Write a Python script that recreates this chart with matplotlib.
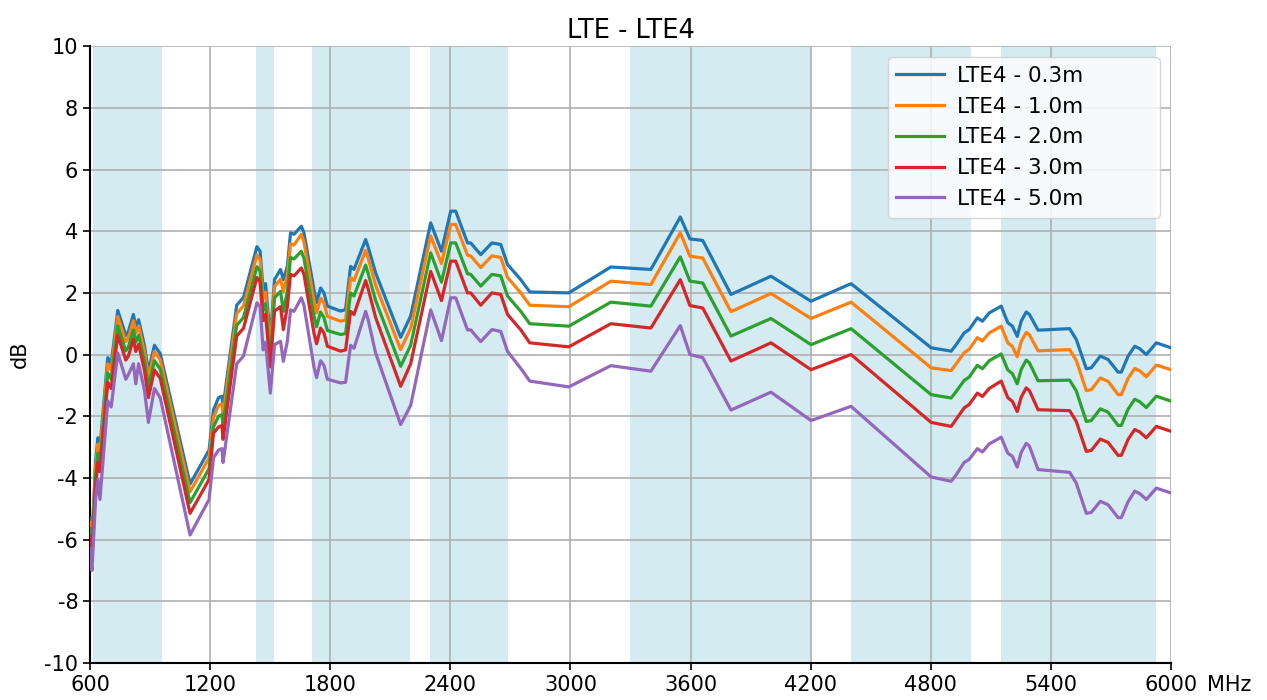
import numpy as np
import matplotlib
matplotlib.use("Agg")
import matplotlib.pyplot as plt

plt.rcParams['axes.unicode_minus'] = False

# frequency points (MHz)
freq = [600, 610, 628, 640, 650, 689, 706, 739, 779, 792, 817, 829, 843, 872, 892,
        922, 951, 1100, 1195, 1217, 1242, 1259, 1265, 1333, 1367, 1434, 1450, 1465,
        1477, 1501, 1522, 1552, 1566, 1586, 1602, 1619, 1656, 1669, 1719, 1732, 1752,
        1769, 1786, 1852, 1877, 1902, 1919, 1977, 1989, 2027, 2152, 2202, 2302, 2356,
        2402, 2427, 2486, 2502, 2552, 2608, 2652, 2686, 2752, 2797, 2992, 3202, 3402,
        3549, 3597, 3661, 3802, 4002, 4202, 4402, 4802, 4902, 4927, 4967, 4992, 5033,
        5058, 5092, 5152, 5185, 5208, 5232, 5252, 5277, 5293, 5336, 5494, 5527, 5577,
        5602, 5647, 5686, 5736, 5752, 5786, 5819, 5844, 5877, 5927, 6000]

lte4_03 = [-5.3, -6.0, -3.5, -2.7, -3.0, -0.1, -0.3, 1.43, 0.62, 0.75, 1.3, 0.9, 1.13, 0.3, -0.55,
           0.3, 0.03, -4.2, -3.1, -1.8, -1.4, -1.35, -1.7, 1.6, 1.85, 3.5, 3.35, 2.1,
           2.3, 0.5, 2.43, 2.76, 2.43, 2.86, 3.95, 3.9, 4.16, 3.95, 2.1, 1.68, 2.16,
           2.0, 1.57, 1.41, 1.46, 2.86, 2.76, 3.73, 3.5, 2.65, 0.56, 1.25, 4.27, 3.35,
           4.65, 4.65, 3.62, 3.62, 3.24, 3.62, 3.57, 2.92, 2.43, 2.03, 2.0, 2.84, 2.76,
           4.46, 3.75, 3.7, 1.95, 2.54, 1.73, 2.3, 0.22, 0.11, 0.32, 0.7, 0.81, 1.19,
           1.08, 1.35, 1.57, 1.03, 0.92, 0.59, 1.08, 1.38, 1.3, 0.79, 0.84, 0.49, -0.46,
           -0.43, -0.05, -0.16, -0.57, -0.57, -0.05, 0.27, 0.19, 0.0, 0.38, 0.22]

lte4_10 = [-5.45, -6.15, -3.7, -2.9, -3.2, -0.3, -0.5, 1.23, 0.42, 0.55, 1.1, 0.7, 0.93, 0.1, -0.75,
           0.1, -0.17, -4.45, -3.35, -2.05, -1.65, -1.6, -1.95, 1.33, 1.58, 3.23, 3.08, 1.83,
           2.03, 0.2, 2.2, 2.45, 2.05, 2.55, 3.6, 3.55, 3.9, 3.65, 1.75, 1.35, 1.83,
           1.67, 1.24, 1.08, 1.12, 2.5, 2.4, 3.38, 3.15, 2.25, 0.16, 0.85, 3.85, 2.95,
           4.22, 4.22, 3.22, 3.2, 2.82, 3.2, 3.15, 2.5, 2.0, 1.6, 1.55, 2.38, 2.27,
           3.95, 3.19, 3.13, 1.39, 1.98, 1.17, 1.7, -0.43, -0.52, -0.3, 0.06, 0.17, 0.55,
           0.44, 0.7, 0.92, 0.38, 0.26, -0.07, 0.42, 0.72, 0.64, 0.12, 0.16, -0.19, -1.17,
           -1.14, -0.76, -0.87, -1.3, -1.3, -0.77, -0.45, -0.53, -0.72, -0.34, -0.49]

lte4_20 = [-5.65, -6.35, -3.95, -3.2, -3.5, -0.6, -0.8, 0.93, 0.12, 0.25, 0.8, 0.4, 0.63, -0.2, -1.05,
           -0.2, -0.47, -4.8, -3.7, -2.35, -2.0, -1.95, -2.3, 0.95, 1.2, 2.85, 2.7, 1.45,
           1.65, -0.2, 1.84, 2.05, 1.4, 2.05, 3.15, 3.1, 3.35, 3.12, 1.25, 0.9, 1.38,
           1.2, 0.78, 0.65, 0.68, 2.0, 1.9, 2.9, 2.65, 1.75, -0.38, 0.3, 3.3, 2.35,
           3.62, 3.62, 2.62, 2.6, 2.22, 2.6, 2.55, 1.9, 1.4, 1.0, 0.92, 1.7, 1.57,
           3.17, 2.38, 2.32, 0.6, 1.17, 0.32, 0.84, -1.3, -1.41, -1.2, -0.84, -0.73, -0.35,
           -0.46, -0.2, 0.02, -0.5, -0.62, -0.95, -0.48, -0.18, -0.27, -0.85, -0.83, -1.18, -2.17,
           -2.14, -1.76, -1.87, -2.3, -2.3, -1.77, -1.45, -1.53, -1.72, -1.35, -1.51]

lte4_30 = [-5.9, -6.6, -4.25, -3.5, -3.8, -0.9, -1.1, 0.63, -0.18, -0.05, 0.5, 0.1, 0.33, -0.5, -1.4,
           -0.5, -0.77, -5.15, -4.05, -2.55, -2.35, -2.3, -2.75, 0.6, 0.85, 2.5, 2.35, 1.1,
           1.3, -0.4, 1.41, 1.55, 0.81, 1.55, 2.6, 2.55, 2.81, 2.6, 0.7, 0.35, 0.86,
           0.7, 0.27, 0.11, 0.15, 1.4, 1.3, 2.4, 2.15, 1.2, -1.03, -0.3, 2.7, 1.75,
           3.03, 3.03, 2.0, 2.0, 1.6, 2.0, 1.95, 1.3, 0.8, 0.38, 0.25, 1.0, 0.86,
           2.43, 1.59, 1.51, -0.21, 0.38, -0.49, 0.0, -2.2, -2.33, -2.1, -1.73, -1.62, -1.25,
           -1.36, -1.1, -0.86, -1.4, -1.52, -1.85, -1.38, -1.08, -1.17, -1.79, -1.82, -2.17, -3.14,
           -3.11, -2.74, -2.85, -3.27, -3.27, -2.75, -2.43, -2.51, -2.7, -2.33, -2.49]

lte4_50 = [-6.3, -7.0, -4.7, -4.05, -4.7, -1.5, -1.7, 0.05, -0.8, -0.65, -0.3, -0.95, -0.3, -1.15, -2.2,
           -1.1, -1.4, -5.85, -4.7, -3.35, -3.1, -3.05, -3.5, -0.3, -0.05, 1.68, 1.55, 0.15,
           0.4, -1.25, 0.32, 0.43, -0.22, 0.43, 1.45, 1.4, 1.84, 1.6, -0.4, -0.75, -0.2,
           -0.35, -0.8, -0.92, -0.9, 0.3, 0.2, 1.4, 1.15, 0.05, -2.27, -1.65, 1.45, 0.45,
           1.84, 1.84, 0.8, 0.8, 0.42, 0.81, 0.75, 0.1, -0.45, -0.86, -1.05, -0.36, -0.54,
           0.94, 0.0, -0.1, -1.8, -1.22, -2.14, -1.68, -3.97, -4.11, -3.9, -3.5, -3.4, -3.05,
           -3.16, -2.9, -2.68, -3.2, -3.3, -3.65, -3.17, -2.88, -2.97, -3.73, -3.82, -4.17, -5.15,
           -5.12, -4.76, -4.87, -5.29, -5.29, -4.77, -4.43, -4.51, -4.7, -4.33, -4.49]

series = [lte4_03, lte4_10, lte4_20, lte4_30, lte4_50]
labels = ['LTE4 - 0.3m', 'LTE4 - 1.0m', 'LTE4 - 2.0m', 'LTE4 - 3.0m', 'LTE4 - 5.0m']

# LTE / NR bands shaded (MHz)
bands = [(617, 960), (1427, 1518), (1710, 2200), (2300, 2690),
         (3300, 4200), (4400, 5000), (5150, 5925)]

xticks = [600, 1200, 1800, 2400, 3000, 3600, 4200, 4800, 5400, 6000]
yticks = list(range(-10, 11, 2))

fig = plt.figure(figsize=(12.67, 7), dpi=100)
ax = fig.add_axes([0.071, 0.053, 0.8532, 0.881])

for lo, hi in bands:
    ax.axvspan(lo, hi, color='lightblue', alpha=0.5, lw=0, zorder=1)

for vals, lab in zip(series, labels):
    ax.plot(freq, vals, lw=2.3, label=lab, zorder=3)

ax.set_xlim(600, 6000)
ax.set_ylim(-10, 10)
ax.set_xticks(xticks)
ax.set_yticks(yticks)
ax.grid(True, color='#b0b0b0', lw=1.2)
ax.tick_params(labelsize=15, length=5, width=1.2)
for s in ['top', 'right']:
    ax.spines[s].set_visible(False)
for s in ['left', 'bottom']:
    ax.spines[s].set_linewidth(1.5)

ax.set_title('LTE - LTE4', fontsize=18.5, pad=6)
ax.set_ylabel('dB', fontsize=15, labelpad=10)
ax.annotate('MHz', xy=(1, 0), xycoords='axes fraction', xytext=(36, -22),
            textcoords='offset pixels', fontsize=15, va='center', ha='left')

ax.legend(loc='upper right', fontsize=15.5, bbox_to_anchor=(0.738, 0.72, 0.2516, 0.262),
          mode='expand', borderaxespad=0, handlelength=2.2, labelspacing=0.5,
          handletextpad=0.6)

fig.savefig('out.png', dpi=100)
